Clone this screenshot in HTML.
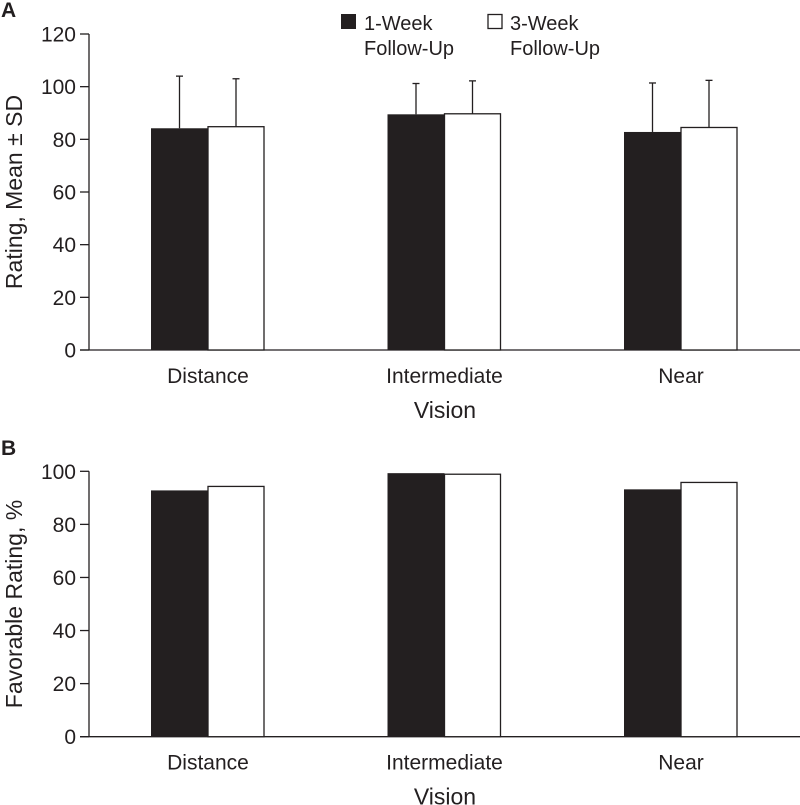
<!DOCTYPE html>
<html><head><meta charset="utf-8"><style>
body{margin:0;background:#fff}
svg{display:block;font-family:"Liberation Sans",Arial,sans-serif;fill:#231f20}
</style></head><body>
<svg id="c" width="800" height="805" viewBox="0 0 800 805"></svg>
<script>
const categories=["Distance","Intermediate","Near"];
const aWeek1=[84.2,89.5,82.8];
const aWeek3=[84.8,89.7,84.5];
const aSdTop1=[104,101.2,101.4];
const aSdTop3=[103,102.2,102.4];
const aTicks=[0,20,40,60,80,100,120];
const bWeek1=[92.8,99.3,93.2];
const bWeek3=[94.3,98.9,95.8];
const bTicks=[0,20,40,60,80,100];
const NS="http://www.w3.org/2000/svg";
const svg=document.getElementById('c');
function mk(t,a,parent){const e=document.createElementNS(NS,t);for(const k in a)e.setAttribute(k,a[k]);(parent||svg).appendChild(e);return e;}
const xCenter=i=>208+i*236.5;
function panel(p){
  const y=v=>p.y0-(v/p.max)*(p.y0-p.yTop);
  const g=mk('g',{});
  
  
  const ax=mk('line',{x1:89,y1:y(p.max),x2:89,y2:p.y0,stroke:'#231f20','stroke-width':1.3},g);
  
  const xx=mk('line',{x1:80,y1:p.y0,x2:800,y2:p.y0,stroke:'#231f20','stroke-width':1.3},g);
  
  p.ticks.forEach(t=>{
    mk('line',{x1:80,y1:y(t),x2:89,y2:y(t),stroke:'#231f20','stroke-width':1.3},g);
    const tx=mk('text',{x:76,y:y(t)+7.5,'text-anchor':'end','font-size':21},g);
    tx.textContent=t;
    
  });
  categories.forEach((c,i)=>{
    const cx=xCenter(i);
    if(p.sd1){
      const e1=cx-28.5,e3=cx+28;
      mk('line',{x1:e1,y1:y(p.s1[i]),x2:e1,y2:y(p.sd1[i]),stroke:'#231f20','stroke-width':1.3},g);
      mk('line',{x1:e1-3.5,y1:y(p.sd1[i]),x2:e1+3.5,y2:y(p.sd1[i]),stroke:'#231f20','stroke-width':1.3},g);
      mk('line',{x1:e3,y1:y(p.s3[i]),x2:e3,y2:y(p.sd3[i]),stroke:'#231f20','stroke-width':1.3},g);
      mk('line',{x1:e3-3.5,y1:y(p.sd3[i]),x2:e3+3.5,y2:y(p.sd3[i]),stroke:'#231f20','stroke-width':1.3},g);
    }
    const b1=mk('rect',{x:cx-57,y:y(p.s1[i]),width:57,height:p.y0-y(p.s1[i]),fill:'#231f20'},g);
    
    const b3=mk('rect',{x:cx,y:y(p.s3[i]),width:56,height:p.y0-y(p.s3[i]),fill:'#fff',stroke:'#231f20','stroke-width':1.3},g);
    
    const lb=mk('text',{x:cx,y:p.y0+33,'text-anchor':'middle','font-size':21},g);
    lb.textContent=c;
  });
  const xt=mk('text',{x:445,y:p.y0+68,'text-anchor':'middle','font-size':23},g);
  xt.textContent='Vision';
  const yt=mk('text',{x:0,y:0,'text-anchor':'middle','font-size':23,transform:`translate(22,${p.yMid}) rotate(-90)`},g);
  yt.textContent=p.ytitle;
  const pl=mk('text',{x:1,y:p.labelY,'font-size':21,'font-weight':'bold'},g);
  pl.textContent=p.letter;
}
panel({name:'panel-a',y0:350,yTop:34,max:120,ticks:aTicks,s1:aWeek1,s3:aWeek3,sd1:aSdTop1,sd3:aSdTop3,ytitle:'Rating, Mean ± SD',yMid:192,letter:'A',labelY:17});
panel({name:'panel-b',y0:736.7,yTop:471.3,max:100,ticks:bTicks,s1:bWeek1,s3:bWeek3,ytitle:'Favorable Rating, %',yMid:604,letter:'B',labelY:455});
const lg=mk('g',{});

const l1=mk('rect',{x:341,y:14,width:15,height:15,fill:'#231f20'},lg);

const l2=mk('rect',{x:488,y:14.5,width:14,height:14,fill:'#fff',stroke:'#231f20','stroke-width':1.3},lg);

[[364,'1-Week','Follow-Up'],[510,'3-Week','Follow-Up']].forEach(a=>{
  const t1=mk('text',{x:a[0],y:30,'font-size':20},lg);t1.textContent=a[1];
  
  const t2=mk('text',{x:a[0],y:55,'font-size':20},lg);t2.textContent=a[2];
  
});
</script>
</body></html>
